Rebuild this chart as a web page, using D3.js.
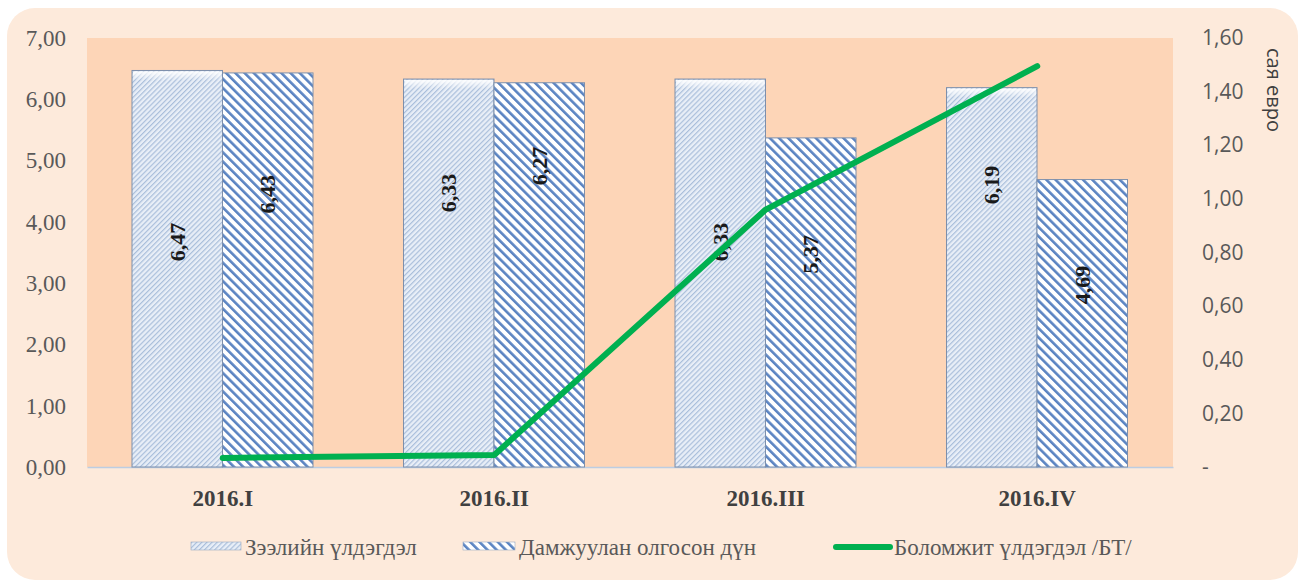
<!DOCTYPE html>
<html>
<head>
<meta charset="utf-8">
<script src="https://cdn.jsdelivr.net/npm/d3@7"></script>
<style>
  body { margin: 0; background: #fff; }
  svg { display: block; }
  .serif { font-family: "Liberation Serif", "Times New Roman", "DejaVu Serif", serif; }
  .sans { font-family: "Open Sans", "Liberation Sans", sans-serif; }
</style>
</head>
<body>
<svg></svg>
<script>
const width = 1307;
const height = 584;

// ангилал
const categories = ["2016.I", "2016.II", "2016.III", "2016.IV"];
// Зээлийн үлдэгдэл
const loanBalance = [6.47, 6.33, 6.33, 6.19];
// Дамжуулан олгосон дүн
const onLent = [6.43, 6.27, 5.37, 4.69];
// Боломжит үлдэгдэл /БТ/ (баруун тэнхлэг)
const available = [0.034, 0.045, 0.96, 1.495];
const leftTicks = [0, 1, 2, 3, 4, 5, 6, 7];
const rightTicks = [0, 0.2, 0.4, 0.6, 0.8, 1.0, 1.2, 1.4, 1.6];
const seriesNames = ["Зээлийн үлдэгдэл", "Дамжуулан олгосон дүн", "Боломжит үлдэгдэл /БТ/"];

// шошгын байрлал (зүүн тэнхлэгийн утгаар), Excel дээр гараар зөөсөн
const labelAt = [[3.67, 4.45], [4.47, 4.91], [3.67, 3.47], [4.60, 2.97]];

const plot = { left: 87, right: 1173, top: 38, bottom: 467 };
const fmt = v => d3.format(".2f")(v).replace(".", ",");

const svg = d3.select("svg").attr("width", width).attr("height", height);

const defs = svg.append("defs");
const p1 = defs.append("pattern").attr("id", "fine")
  .attr("patternUnits", "userSpaceOnUse").attr("width", 3.6).attr("height", 10)
  .attr("patternTransform", "rotate(45)");
p1.append("rect").attr("width", 3.6).attr("height", 10).attr("fill", "#e8eef7");
p1.append("rect").attr("width", 1.2).attr("height", 10).attr("fill", "#a9bedb");

const p2 = defs.append("pattern").attr("id", "wide")
  .attr("patternUnits", "userSpaceOnUse").attr("width", 6.5).attr("height", 10)
  .attr("patternTransform", "rotate(-45)");
p2.append("rect").attr("width", 6.5).attr("height", 10).attr("fill", "#ffffff");
p2.append("rect").attr("width", 2.6).attr("height", 10).attr("fill", "#5b84c2");

const grad = defs.append("linearGradient").attr("id", "bevel")
  .attr("x1", 0).attr("y1", 0).attr("x2", 0).attr("y2", 1);
grad.append("stop").attr("offset", 0).attr("stop-color", "#fff").attr("stop-opacity", 0.95);
grad.append("stop").attr("offset", 1).attr("stop-color", "#fff").attr("stop-opacity", 0);

// дэвсгэр
svg.append("rect").attr("x", 7).attr("y", 8).attr("width", 1291).attr("height", 572)
  .attr("rx", 28).attr("fill", "#fdeadb");
svg.append("rect").attr("x", plot.left).attr("y", plot.top)
  .attr("width", plot.right - plot.left).attr("height", plot.bottom - plot.top)
  .attr("fill", "#fdd5b7");

const x = d3.scaleBand().domain(categories).range([plot.left, plot.right]);
const xSub = d3.scaleBand().domain([0, 1]).range([45, 226]);
const y = d3.scaleLinear().domain([0, 7]).range([plot.bottom, plot.top]);
const y2 = d3.scaleLinear().domain([0, 1.6]).range([plot.bottom, plot.top]);

// тэнхлэгүүд
const axL = svg.append("g").attr("transform", `translate(${plot.left},0)`)
  .call(d3.axisLeft(y).tickValues(leftTicks).tickFormat(fmt).tickSize(0).tickPadding(21));
axL.attr("font-family", null).attr("class", "serif");
axL.select(".domain").remove();
axL.selectAll("text").attr("font-size", 23).attr("fill", "#595959");

const axR = svg.append("g").attr("transform", `translate(${plot.right},0)`)
  .call(d3.axisRight(y2).tickValues(rightTicks)
    .tickFormat(v => v === 0 ? "-" : fmt(v)).tickSize(0).tickPadding(29));
axR.attr("font-family", null).attr("class", "sans");
axR.select(".domain").remove();
axR.selectAll("text").attr("font-size", 21).attr("fill", "#595959");

const axB = svg.append("g").attr("transform", `translate(0,${plot.bottom})`)
  .call(d3.axisBottom(x).tickSize(0).tickPadding(23));
axB.attr("font-family", null).attr("class", "serif");
axB.select(".domain").attr("stroke", "#bccde2").attr("stroke-width", 1.5);
axB.selectAll("text").attr("font-size", 23).attr("font-weight", "bold").attr("fill", "#404040");

svg.append("text").attr("class", "sans")
  .attr("transform", "translate(1267,90) rotate(90)")
  .attr("text-anchor", "middle")
  .attr("font-size", 20).attr("fill", "#404040")
  .text("сая евро");

// баганууд
const groups = svg.append("g").selectAll("g").data(categories).join("g")
  .attr("transform", d => `translate(${x(d)},0)`);

const labelSize = 22;
groups.each(function (c, i) {
  const g = d3.select(this);
  const vals = [loanBalance[i], onLent[i]];
  vals.forEach((v, j) => {
    g.append("rect")
      .attr("x", xSub(j)).attr("y", y(v))
      .attr("width", xSub.bandwidth()).attr("height", y(0) - y(v))
      .attr("fill", j === 0 ? "url(#fine)" : "url(#wide)")
      .attr("stroke", "#7d8fab").attr("stroke-width", 1);
    if (j === 0) {
      g.append("rect")
        .attr("x", xSub(j) + 1).attr("y", y(v) + 1)
        .attr("width", xSub.bandwidth() - 2).attr("height", 9)
        .attr("fill", "url(#bevel)");
    }
    const lx = xSub(j) + xSub.bandwidth() / 2;
    const ly = y(labelAt[i][j]);
    g.append("text").attr("class", "serif")
      .attr("transform", `translate(${lx + labelSize * 0.33},${ly}) rotate(-90)`)
      .attr("text-anchor", "middle")
      .attr("font-size", labelSize)
      .attr("font-weight", "bold").attr("fill", "#1a1a1a")
      .text(fmt(v));
  });
});

// шугам
const line = d3.line()
  .x((d, i) => x(categories[i]) + x.bandwidth() / 2)
  .y(d => y2(d));
svg.append("path").datum(available)
  .attr("d", line).attr("fill", "none")
  .attr("stroke", "#00b050").attr("stroke-width", 6)
  .attr("stroke-linecap", "round").attr("stroke-linejoin", "round");

// тайлбар
const leg = svg.append("g").attr("class", "serif")
  .attr("font-size", 23).attr("fill", "#595959");
const legItems = [
  { x: 191, w: 50, type: "fine" },
  { x: 463, w: 52, type: "wide" },
  { x: 836, w: 54, type: "line" }
];
legItems.forEach((it, k) => {
  if (it.type === "line") {
    leg.append("line").attr("x1", it.x).attr("x2", it.x + it.w)
      .attr("y1", 547).attr("y2", 547)
      .attr("stroke", "#00b050").attr("stroke-width", 6).attr("stroke-linecap", "round");
  } else {
    leg.append("rect").attr("x", it.x).attr("y", 542).attr("width", it.w).attr("height", 8)
      .attr("fill", `url(#${it.type})`).attr("stroke", "#9aaac2").attr("stroke-width", 0.6);
  }
  leg.append("text").attr("x", it.x + it.w + 4).attr("y", 555).text(seriesNames[k]);
});
</script>
</body>
</html>
